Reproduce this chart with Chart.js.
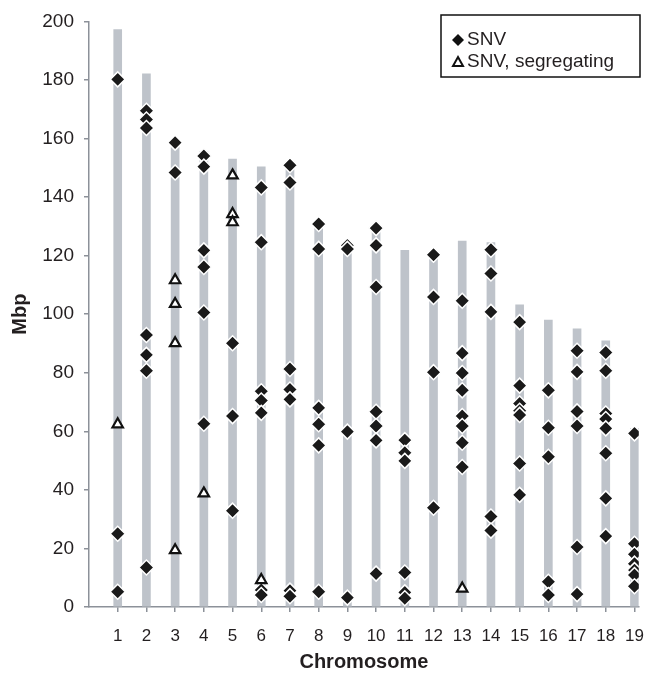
<!DOCTYPE html>
<html>
<head>
<meta charset="utf-8">
<script src="https://cdn.jsdelivr.net/npm/chart.js@4.4.1/dist/chart.umd.min.js"></script>
<style>
  html, body { margin: 0; padding: 0; background: #fff; }
  #wrap { width: 658px; height: 676px; }
</style>
</head>
<body>
<div id="wrap"><canvas id="c" width="658" height="676"></canvas></div>
<script>
const cbar = "#BEC3CA";
const caxis = "#8C9199";
const ctext = "#231F20";

// chromosome numbers and lengths (Mbp)
const chromosomes = [1, 2, 3, 4, 5, 6, 7, 8, 9, 10, 11, 12, 13, 14, 15, 16, 17, 18, 19];
const chromLength = [197.2, 182.1, 159.5, 155.5, 153.0, 150.3, 152.0, 131.5, 123.8, 130.0,
  121.8, 121.0, 125.0, 124.5, 103.2, 98.0, 95.0, 90.9, 61.0];

// SNV positions, one list per chromosome
const snvPos = [
  [180.2, 25.0, 5.2],
  [169.5, 166.5, 163.6, 92.9, 86.1, 80.7, 13.5],
  [158.6, 148.4],
  [154.0, 150.4, 121.8, 116.1, 100.6, 62.6],
  [90.1, 65.2, 32.9],
  [143.3, 124.6, 73.7, 70.5, 66.3, 5.8, 4.1],
  [150.9, 145.0, 81.3, 74.3, 70.9, 5.6, 3.7],
  [130.8, 122.3, 68.0, 62.4, 55.2, 5.2],
  [123.5, 122.3, 59.9, 3.2],
  [129.4, 123.5, 109.3, 66.7, 61.8, 56.9, 11.4],
  [57.0, 52.7, 49.9, 11.8, 5.0, 3.0],
  [120.3, 105.9, 80.2, 33.9],
  [104.6, 86.7, 79.9, 74.0, 65.2, 61.8, 56.1, 47.8],
  [122.0, 113.9, 100.8, 30.9, 26.1],
  [97.3, 75.6, 69.5, 67.0, 65.6, 49.0, 38.3],
  [74.0, 61.2, 51.3, 8.6, 4.1],
  [87.5, 80.3, 66.8, 61.8, 20.5, 4.4],
  [86.9, 80.7, 66.1, 64.2, 61.0, 52.5, 37.1, 24.2],
  [59.3, 21.6, 18.0, 14.8, 12.6, 10.9, 7.1]
];

// segregating SNVs
const segChrom = [1, 3, 3, 3, 3, 4, 5, 5, 5, 6, 13];
const segPos = [62.4, 111.6, 103.5, 90.1, 19.4, 38.8, 147.4, 134.2, 131.4, 9.2, 6.3];

const seriesNames = ["SNV", "SNV, segregating"];

const snvData = [];
snvPos.forEach((list, i) => list.forEach(v => snvData.push({x: chromosomes[i], y: v})));
const segData = segChrom.map((c, i) => ({x: c, y: segPos[i]}));
const barData = chromosomes.map((c, i) => ({x: c, y: chromLength[i]}));

// legend drawn inside the plot, boxed like the original
const boxLegend = {
  id: "boxLegend",
  afterDraw(chart) {
    const ctx = chart.ctx;
    const x0 = 441, y0 = 15, w = 199, h = 62;
    ctx.save();
    ctx.fillStyle = "#fff";
    ctx.fillRect(x0, y0, w, h);
    ctx.strokeStyle = "#111";
    ctx.lineWidth = 1.5;
    ctx.strokeRect(x0, y0, w, h);
    ctx.font = "19px 'Liberation Sans', Arial, sans-serif";
    ctx.textBaseline = "middle";
    const rows = [y0 + 25, y0 + 47];
    // diamond
    ctx.beginPath();
    ctx.moveTo(458, rows[0] - 6);
    ctx.lineTo(464, rows[0]);
    ctx.lineTo(458, rows[0] + 6);
    ctx.lineTo(452, rows[0]);
    ctx.closePath();
    ctx.fillStyle = "#111";
    ctx.fill();
    // triangle
    ctx.beginPath();
    ctx.moveTo(458, rows[1] - 5);
    ctx.lineTo(463, rows[1] + 4);
    ctx.lineTo(453, rows[1] + 4);
    ctx.closePath();
    ctx.fillStyle = "#fff";
    ctx.fill();
    ctx.lineWidth = 2;
    ctx.strokeStyle = "#111";
    ctx.stroke();
    ctx.fillStyle = ctext;
    ctx.fillText(seriesNames[0], 467, rows[0]);
    ctx.fillText(seriesNames[1], 467, rows[1]);
    ctx.restore();
  }
};

Chart.defaults.font.family = "'Liberation Sans', Arial, sans-serif";
Chart.defaults.color = ctext;

new Chart(document.getElementById("c"), {
  type: "scatter",
  data: {
    datasets: [
      {
        label: seriesNames[1],
        data: segData,
        pointStyle: "triangle",
        pointRadius: 6,
        backgroundColor: "#fff",
        borderColor: "#111",
        borderWidth: 2.2,
        order: 0
      },
      {
        label: seriesNames[0],
        data: snvData,
        pointStyle: "rectRot",
        pointRadius: 7.5,
        backgroundColor: "#1a1a1a",
        borderColor: "#fff",
        borderWidth: 1.5,
        order: 1
      },
      {
        type: "bar",
        label: "length",
        data: barData,
        backgroundColor: cbar,
        barThickness: 8,
        order: 2
      }
    ]
  },
  options: {
    responsive: false,
    animation: false,
    layout: { padding: { top: 18, right: 9, left: 0, bottom: 0 } },
    plugins: {
      legend: { display: false },
      tooltip: { enabled: false }
    },
    scales: {
      x: {
        type: "linear",
        offset: false,
        min: 0,
        max: 19.15,
        afterBuildTicks: s => { s.ticks = chromosomes.map(v => ({value: v})); },
        afterFit: s => { s.height = 69; },
        grid: { display: true, offset: false, drawOnChartArea: false, tickLength: 5, color: caxis, lineWidth: 1.5 },
        border: { color: caxis, width: 1.5 },
        ticks: { font: { size: 17 }, padding: 14, maxRotation: 0, autoSkip: false },
        title: { display: true, text: "Chromosome", font: { size: 20, weight: "bold" }, padding: { top: 0, bottom: 2 } }
      },
      y: {
        min: 0,
        max: 200,
        afterFit: s => { s.width = 89; },
        grid: { display: true, drawOnChartArea: false, tickLength: 5, color: caxis, lineWidth: 1.5 },
        border: { color: caxis, width: 1.5 },
        ticks: { stepSize: 20, font: { size: 19 }, padding: 10 },
        title: { display: true, text: "Mbp", font: { size: 20, weight: "bold" }, padding: { top: 8, bottom: 0 } }
      }
    }
  },
  plugins: [boxLegend]
});
</script>
</body>
</html>
